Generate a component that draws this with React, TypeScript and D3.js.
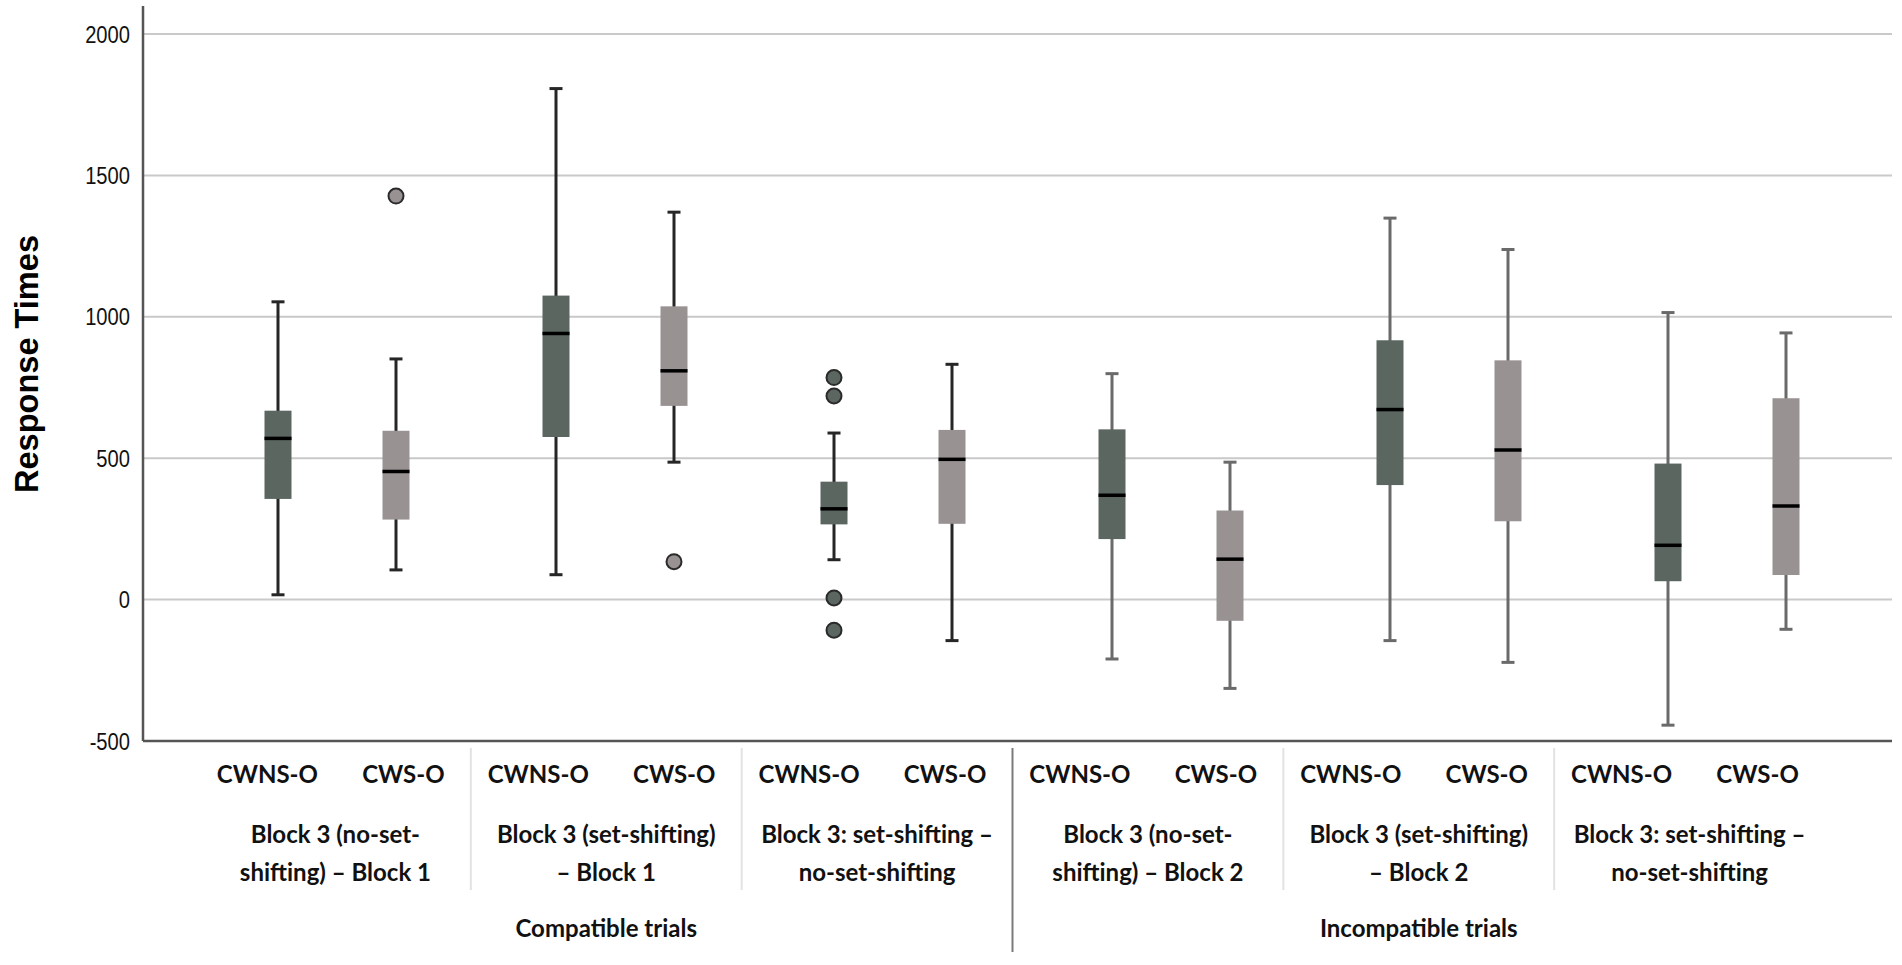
import { useEffect, useRef } from "react";
import * as d3 from "d3";

// conditions inside each block
const conditions = ["CWNS-O", "CWS-O"];

// block labels (two lines each)
const blockLabels = [
  ["Block 3 (no-set-", "shifting) – Block 1"],
  ["Block 3 (set-shifting)", "– Block 1"],
  ["Block 3: set-shifting –", "no-set-shifting"],
  ["Block 3 (no-set-", "shifting) – Block 2"],
  ["Block 3 (set-shifting)", "– Block 2"],
  ["Block 3: set-shifting –", "no-set-shifting"],
];

const trialTypes = ["Compatible trials", "Incompatible trials"];

// box statistics per block, [CWNS-O, CWS-O]
const whiskerLow = [
  [17, 105],
  [88, 486],
  [141, -145],
  [-210, -314],
  [-145, -222],
  [-444, -105],
];
const q1 = [
  [356, 283],
  [575, 685],
  [266, 268],
  [214, -75],
  [405, 277],
  [65, 87],
];
const median = [
  [570, 453],
  [941, 809],
  [321, 496],
  [369, 143],
  [672, 529],
  [192, 331],
];
const q3 = [
  [668, 597],
  [1075, 1037],
  [417, 600],
  [602, 315],
  [917, 846],
  [481, 712],
];
const whiskerHigh = [
  [1053, 851],
  [1807, 1370],
  [589, 832],
  [799, 486],
  [1349, 1238],
  [1015, 943],
];
const outliers = [
  [[], [1427]],
  [[], [134]],
  [[785, 720, 6, -108], []],
  [[], []],
  [[], []],
  [[], []],
];

const yTicks = [-500, 0, 500, 1000, 1500, 2000];

const W = 1902;
const H = 965;

export default function App() {
  const svgRef = useRef<SVGSVGElement>(null);

  useEffect(() => {
    if (!svgRef.current) return;
    const svg = d3.select(svgRef.current);
    svg.selectAll("*").remove();

    const left = 143;
    const right = 1892;
    const top = 6;

    const y = d3.scaleLinear().domain([-500, 2000]).range([741, 34]);

    const blocks = blockLabels.map((_, i) => i);
    // label area (text was laid out over the chart) and the plotted boxes
    const xLabel = d3.scaleBand<number>().domain(blocks).range([200, 1825]).padding(0);
    const xBox = d3.scaleBand<number>().domain(blocks).range([198, 1866]).padding(0);
    const boxPos = d3.scalePoint<string>().domain(conditions).range([-59, 59]);
    const labelPos = d3.scalePoint<string>().domain(conditions).range([-68, 68]);
    const labelCenter = (i: number) => (xLabel(i) || 0) + xLabel.bandwidth() / 2;
    const boxCenter = (i: number) => (xBox(i) || 0) + xBox.bandwidth() / 2;

    const fill = d3.scaleOrdinal<string, string>().domain(conditions).range(["#5b6661", "#989292"]);

    // grid lines
    svg
      .append("g")
      .selectAll("line")
      .data(yTicks.filter((t) => t > -500))
      .join("line")
      .attr("x1", left)
      .attr("x2", right)
      .attr("y1", (d) => y(d))
      .attr("y2", (d) => y(d))
      .attr("stroke", "#c9c9c9")
      .attr("stroke-width", 2);

    // y tick labels
    svg
      .append("g")
      .selectAll("text")
      .data(yTicks)
      .join("text")
      .attr("transform", (d) => `translate(130,${y(d)}) scale(0.84,1)`)
      .attr("text-anchor", "end")
      .attr("dy", "0.36em")
      .style("font-family", "'Liberation Sans', Arial, sans-serif")
      .style("font-size", "24px")
      .style("fill", "#111")
      .text((d) => d);

    // axis title
    svg
      .append("text")
      .attr("transform", `translate(38,364) rotate(-90)`)
      .attr("text-anchor", "middle")
      .attr("textLength", 258)
      .attr("lengthAdjust", "spacingAndGlyphs")
      .style("font-family", "'Liberation Sans', Arial, sans-serif")
      .style("font-size", "33px")
      .style("font-weight", "bold")
      .style("fill", "#000")
      .text("Response Times");

    // boxes
    const bw = 27;
    const cap = 13;
    blocks.forEach((b) => {
      const whiskerColor = b < 3 ? "#262626" : "#6a6a6a";
      conditions.forEach((c, k) => {
        const cx = boxCenter(b) + (boxPos(c) || 0);
        const g = svg.append("g");
        g.append("line")
          .attr("x1", cx)
          .attr("x2", cx)
          .attr("y1", y(whiskerLow[b][k]))
          .attr("y2", y(whiskerHigh[b][k]))
          .attr("stroke", whiskerColor)
          .attr("stroke-width", 3);
        [whiskerLow[b][k], whiskerHigh[b][k]].forEach((v) => {
          g.append("line")
            .attr("x1", cx - cap / 2)
            .attr("x2", cx + cap / 2)
            .attr("y1", y(v))
            .attr("y2", y(v))
            .attr("stroke", whiskerColor)
            .attr("stroke-width", 3);
        });
        g.append("rect")
          .attr("x", cx - bw / 2)
          .attr("width", bw)
          .attr("y", y(q3[b][k]))
          .attr("height", y(q1[b][k]) - y(q3[b][k]))
          .attr("fill", fill(c));
        g.append("line")
          .attr("x1", cx - bw / 2)
          .attr("x2", cx + bw / 2)
          .attr("y1", y(median[b][k]))
          .attr("y2", y(median[b][k]))
          .attr("stroke", "#000")
          .attr("stroke-width", 3.5);
        g.selectAll("circle")
          .data(outliers[b][k])
          .join("circle")
          .attr("cx", cx)
          .attr("cy", (d) => y(d))
          .attr("r", 7.5)
          .attr("fill", fill(c))
          .attr("stroke", "#2a2a2a")
          .attr("stroke-width", 2);
      });
    });

    // axes lines
    svg
      .append("line")
      .attr("x1", left)
      .attr("x2", left)
      .attr("y1", top)
      .attr("y2", y(-500))
      .attr("stroke", "#555")
      .attr("stroke-width", 2.5);
    svg
      .append("line")
      .attr("x1", left)
      .attr("x2", right)
      .attr("y1", y(-500))
      .attr("y2", y(-500))
      .attr("stroke", "#555")
      .attr("stroke-width", 2.5);

    // block separators
    blocks.slice(1).forEach((b) => {
      const sx = xLabel(b) || 0;
      const strong = b === 3;
      svg
        .append("line")
        .attr("x1", sx)
        .attr("x2", sx)
        .attr("y1", 748)
        .attr("y2", strong ? 952 : 890)
        .attr("stroke", strong ? "#7a7a7a" : "#e2e2e2")
        .attr("stroke-width", 2);
    });

    const labelFont = "Lato, 'Open Sans', sans-serif";

    // condition labels
    blocks.forEach((b) => {
      conditions.forEach((c) => {
        svg
          .append("text")
          .attr("x", labelCenter(b) + (labelPos(c) || 0))
          .attr("y", 783)
          .attr("text-anchor", "middle")
          .style("font-family", labelFont)
          .style("font-size", "24px")
          .style("font-weight", 700)
          .style("fill", "#111")
          .text(c);
      });
      blockLabels[b].forEach((line, li) => {
        svg
          .append("text")
          .attr("x", labelCenter(b))
          .attr("y", 843 + li * 38)
          .attr("text-anchor", "middle")
          .style("font-family", labelFont)
          .style("font-size", "24px")
          .style("font-weight", 700)
          .style("fill", "#111")
          .text(line);
      });
    });

    // trial type labels
    trialTypes.forEach((t, i) => {
      svg
        .append("text")
        .attr("x", labelCenter(i * 3 + 1))
        .attr("y", 937)
        .attr("text-anchor", "middle")
        .style("font-family", labelFont)
        .style("font-size", "24px")
        .style("font-weight", 700)
        .style("fill", "#111")
        .text(t);
    });
  }, []);

  return (
    <>
      <style>{`body{margin:0;background:#fff}`}</style>
      <svg ref={svgRef} width={W} height={H} viewBox={`0 0 ${W} ${H}`} style={{ display: "block" }} />
    </>
  );
}
